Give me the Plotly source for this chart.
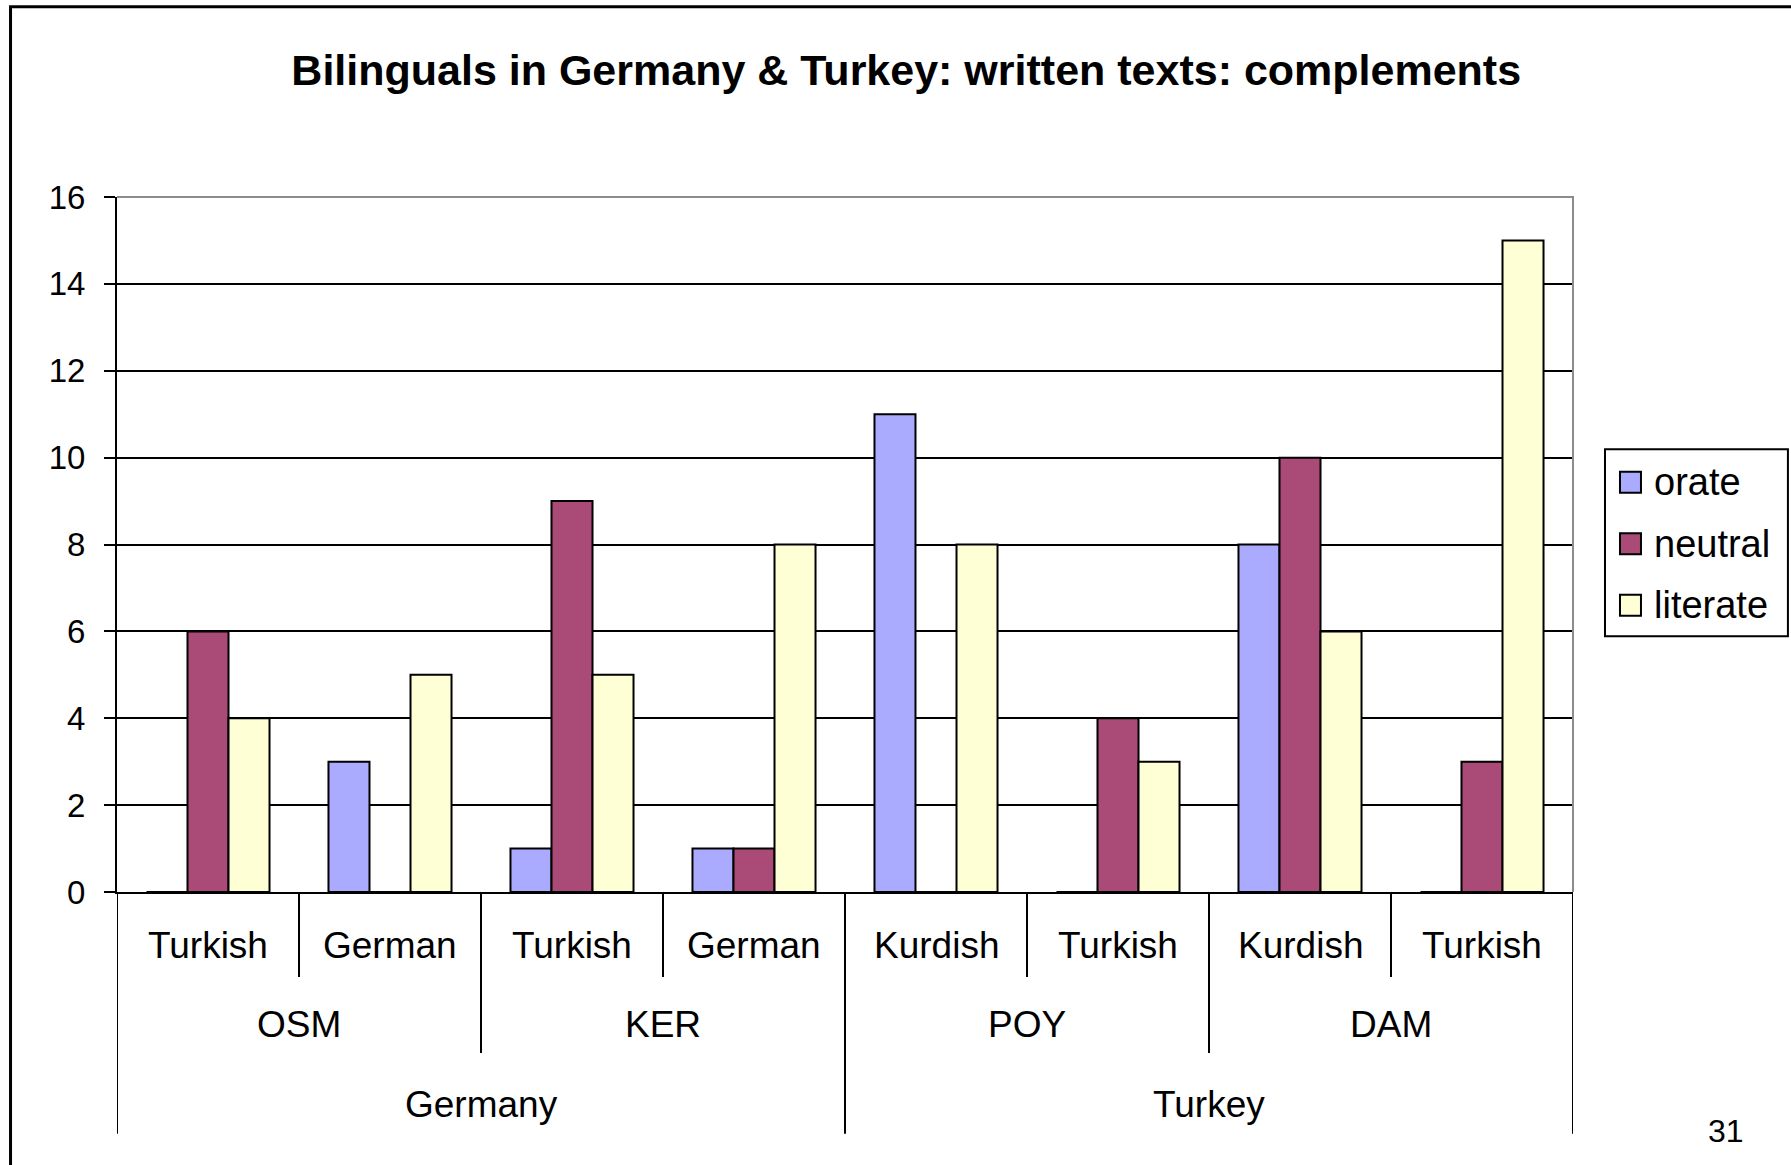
import plotly.graph_objects as go

# --- data -------------------------------------------------------------
countries = ["Germany", "Germany", "Germany", "Germany",
             "Turkey", "Turkey", "Turkey", "Turkey"]
groups = ["OSM", "OSM", "KER", "KER", "POY", "POY", "DAM", "DAM"]
languages = ["Turkish", "German", "Turkish", "German",
             "Kurdish", "Turkish", "Kurdish", "Turkish"]

series_names = ["orate", "neutral", "literate"]
orate = [0, 3, 1, 1, 11, 0, 8, 0]
neutral = [6, 0, 9, 1, 0, 4, 10, 3]
literate = [4, 5, 5, 8, 8, 3, 6, 15]
series_values = [orate, neutral, literate]

y_ticks = [0, 2, 4, 6, 8, 10, 12, 14, 16]
title_text = "Bilinguals in Germany & Turkey: written texts: complements"
page_number = "31"

# --- styling ----------------------------------------------------------
colors = ["#AAAAFF", "#AA4A77", "#FFFFD5"]
FONT = "Liberation Sans, Arial, sans-serif"
W, H = 1791, 1165
L, R, T, B = 116.5, 1573.0, 196.5, 892.0   # plot area in pixels


def px_x(px):
    return (px - L) / (R - L)


def px_y(py):
    return (B - py) / (B - T)


positions = list(range(len(languages)))

fig = go.Figure()
for name, vals, col in zip(series_names, series_values, colors):
    fig.add_trace(go.Bar(
        x=positions, y=vals, name=name, showlegend=False,
        marker=dict(color=col, line=dict(color="black", width=2)),
    ))

shapes = []
annotations = []

# hierarchical category labels under the x axis
row_y = {1: px_y(946), 2: px_y(1025), 3: px_y(1105)}
sep_bottom = {1: px_y(977), 2: px_y(1053), 3: px_y(1134)}


def add_level(labels, level):
    start = 0
    n = len(labels)
    for i in range(1, n + 1):
        if i == n or labels[i] != labels[start] or level == 1:
            annotations.append(dict(
                x=(start + i - 1) / 2, y=row_y[level], xref="x", yref="paper",
                text=labels[start], showarrow=False,
                font=dict(family=FONT, size=37, color="black"),
                xanchor="center", yanchor="middle"))
            start = i


add_level(languages, 1)
add_level(groups, 2)
add_level(countries, 3)

# divider lines: the deepest level at which each boundary changes
n = len(languages)
for b in range(n + 1):
    if b == 0 or b == n or countries[b] != countries[b - 1]:
        lvl = 3
    elif groups[b] != groups[b - 1]:
        lvl = 2
    else:
        lvl = 1
    shapes.append(dict(
        type="line", xref="x", yref="paper",
        x0=b - 0.5, x1=b - 0.5, y0=0, y1=sep_bottom[lvl],
        line=dict(color="black", width=2)))

# grey top/right edge of the plot area
shapes.append(dict(
    type="path", xref="paper", yref="paper",
    path="M 0 1 L 1 1 L 1 0", layer="above",
    line=dict(color="#8C8C8C", width=2)))

# page frame (top and left edges)
shapes.append(dict(
    type="path", xref="paper", yref="paper",
    path=f"M {px_x(10)} {px_y(1170)} L {px_x(10)} {px_y(6)} L {px_x(1800)} {px_y(6)}",
    line=dict(color="black", width=3)))

# legend box with square swatches
shapes.append(dict(
    type="rect", xref="paper", yref="paper",
    x0=px_x(1605), x1=px_x(1788), y0=px_y(636), y1=px_y(449),
    line=dict(color="black", width=2), fillcolor="white"))
for k, (name, col) in enumerate(zip(series_names, colors)):
    cy = 482 + k * 61.5
    shapes.append(dict(
        type="rect", xref="paper", yref="paper",
        x0=px_x(1620), x1=px_x(1641), y0=px_y(cy + 10.5), y1=px_y(cy - 10.5),
        line=dict(color="black", width=2), fillcolor=col))
    annotations.append(dict(
        x=px_x(1652), y=px_y(cy), xref="paper", yref="paper",
        text=name, showarrow=False,
        font=dict(family=FONT, size=38, color="black"),
        xanchor="left", yanchor="middle"))

annotations.append(dict(
    x=px_x(1726), y=px_y(1131), xref="paper", yref="paper",
    text=page_number, showarrow=False,
    font=dict(family=FONT, size=32, color="black"),
    xanchor="center", yanchor="middle"))

fig.update_layout(
    width=W, height=H, autosize=False,
    margin=dict(l=L, r=W - R, t=T, b=H - B, pad=0),
    paper_bgcolor="white", plot_bgcolor="white",
    barmode="group", bargap=0.324, bargroupgap=0,
    showlegend=False,
    title=dict(
        text=f"<b>{title_text}</b>",
        x=px_x(906), xref="paper", xanchor="center",
        y=1 - 70 / H, yref="container", yanchor="middle",
        font=dict(family=FONT, size=43, color="black")),
    xaxis=dict(
        range=[-0.5, n - 0.5], showticklabels=False, ticks="",
        showgrid=False, zeroline=False,
        showline=True, linecolor="black", linewidth=2, fixedrange=True),
    yaxis=dict(
        range=[0, 16], tickvals=y_ticks,
        tickfont=dict(family=FONT, size=33, color="black"),
        ticks="outside", ticklen=11, tickwidth=2, tickcolor="black",
        showgrid=True, gridcolor="black", gridwidth=2,
        zeroline=False, showline=True, linecolor="black", linewidth=2,
        ticklabelstandoff=12),
    shapes=shapes, annotations=annotations,
)

fig.write_html("out.html")
